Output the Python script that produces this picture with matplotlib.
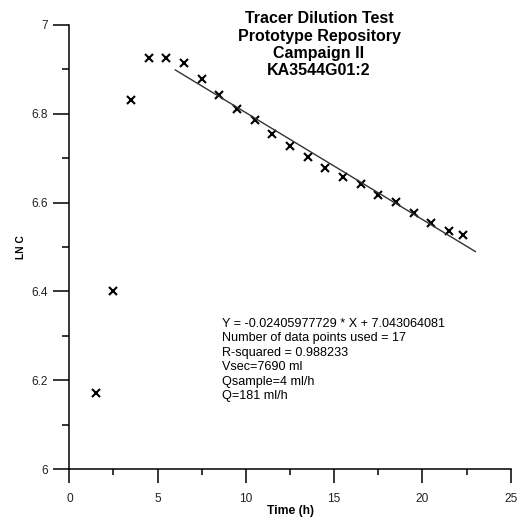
import matplotlib
matplotlib.use('Agg')
import matplotlib.pyplot as plt
from matplotlib.ticker import MultipleLocator

plt.rcParams['font.family'] = ['Liberation Sans', 'DejaVu Sans']

# measured points, time (h) vs ln C
time_h = [1.5, 2.5, 3.5, 4.5, 5.5, 6.5, 7.5, 8.5, 9.5, 10.5, 11.5,
          12.5, 13.5, 14.5, 15.5, 16.5, 17.5, 18.5, 19.5, 20.5, 21.5, 22.3]
ln_c = [6.171, 6.402, 6.830, 6.926, 6.926, 6.914, 6.879, 6.842, 6.811, 6.787, 6.754,
        6.728, 6.702, 6.678, 6.658, 6.641, 6.617, 6.601, 6.577, 6.553, 6.536, 6.528]

# regression result
slope = -0.02405977729
intercept = 7.043064081
fit_range = [6.0, 23.0]

title_lines = ['Tracer Dilution Test', 'Prototype Repository', 'Campaign II', 'KA3544G01:2']
info_lines = ['Y = -0.02405977729 * X + 7.043064081',
              'Number of data points used = 17',
              'R-squared = 0.988233',
              'Vsec=7690 ml',
              'Qsample=4 ml/h',
              'Q=181 ml/h']

fig = plt.figure(figsize=(5.22, 5.20), dpi=100)
ax = fig.add_axes([0.1328, 0.098, 0.8456, 0.854])

ax.plot(time_h, ln_c, linestyle='none', marker='x', color='black',
        markersize=6, markeredgewidth=1.5)
fit_y = [slope * x + intercept for x in fit_range]
ax.plot(fit_range, fit_y, color='#333333', linewidth=1.0)

ax.set_xlim(0, 25)
ax.set_ylim(6, 7)
ax.xaxis.set_major_locator(MultipleLocator(5))
ax.xaxis.set_minor_locator(MultipleLocator(2.5))
ax.yaxis.set_major_locator(MultipleLocator(0.2))
ax.yaxis.set_minor_locator(MultipleLocator(0.1))
ax.yaxis.set_major_formatter(plt.FuncFormatter(lambda v, p: ('%g' % round(v, 1))))

for s in ['top', 'right']:
    ax.spines[s].set_visible(False)
for s in ['left', 'bottom']:
    ax.spines[s].set_linewidth(1.1)
ax.tick_params(axis='y', which='major', length=11.5, width=1.1, pad=4, labelsize=8.6, labelcolor='#222222')
ax.tick_params(axis='y', which='minor', length=5, width=1.1)
ax.tick_params(axis='x', which='major', length=10, width=1.1, pad=7.5, labelsize=8.6, labelcolor='#222222')
ax.tick_params(axis='x', which='minor', length=4.3, width=1.1)

ax.set_xlabel('Time (h)', fontsize=8.7, fontweight='bold', labelpad=0)
ax.set_ylabel('LN C', fontsize=7.4, fontweight='bold', labelpad=4)

fig.text(0.611, 0.978, '\n'.join(title_lines), ha='center', va='top',
         fontsize=11.5, fontweight='bold', linespacing=1.19)
ax.text(0.345, 0.341, '\n'.join(info_lines), transform=ax.transAxes,
        ha='left', va='top', fontsize=9.1, linespacing=1.28)

fig.savefig('out.png', dpi=100)
